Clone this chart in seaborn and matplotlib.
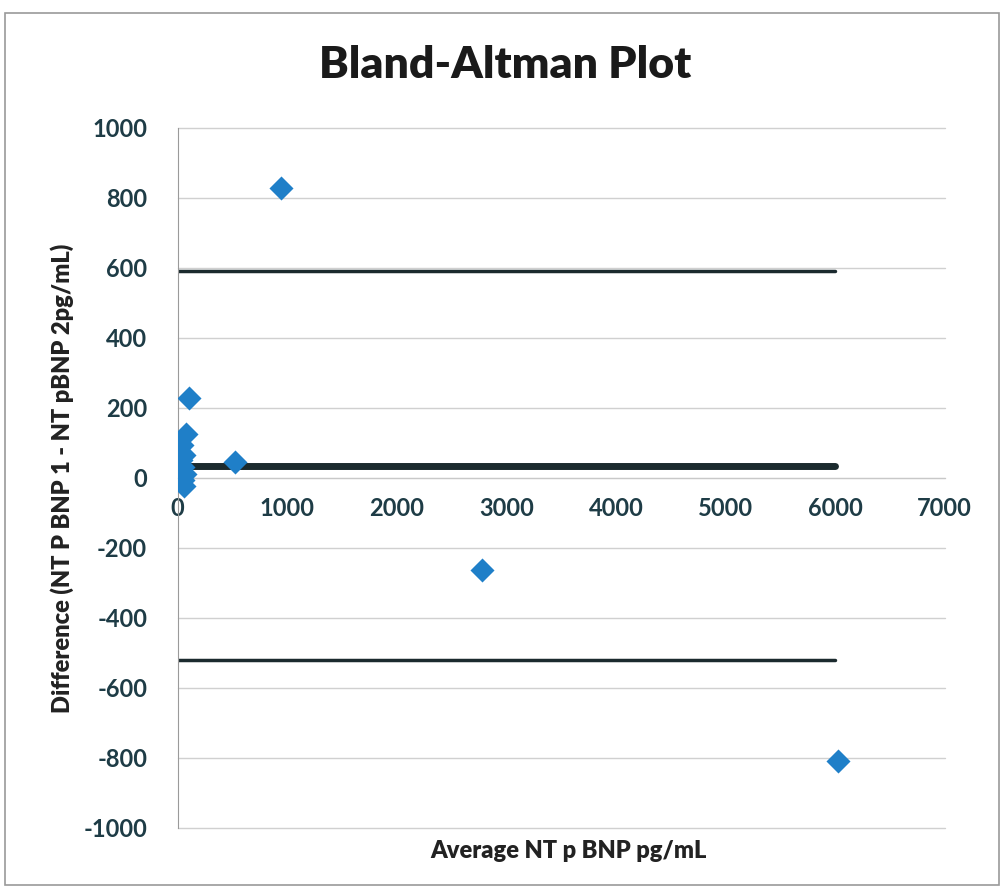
import numpy as np
import pandas as pd
import matplotlib
matplotlib.use("Agg")
import matplotlib.pyplot as plt
import seaborn as sns

# values
avg_ntpbnp = [940, 2780, 6030, 525, 100, 80, 40, 60, 45, 20, 50, 55, 30, 70]
diff_ntpbnp = [829, -263, -810, 46, 229, 125, 94, 66, 31, 23, -6, -23, 50, 10]
mean_diff = 35
upper_loa = 590
lower_loa = -520
line_x = [0, 6000]

df = pd.DataFrame({'avg': avg_ntpbnp, 'diff': diff_ntpbnp})

sns.set_style("white")
plt.rcParams['font.family'] = ['Lato', 'DejaVu Sans']
plt.rcParams['axes.unicode_minus'] = False

fig = plt.figure(figsize=(10.04, 8.94), dpi=100)
ax = fig.add_axes([0.177, 0.074, 0.764, 0.783])

# outer chart border
fig.patches.append(plt.Rectangle((0.005, 0.01), 0.99, 0.975, transform=fig.transFigure,
                                 fill=False, edgecolor='#9a9a9a', lw=1.2))

line_col = '#1b2a2e'
ax.plot(line_x, [upper_loa, upper_loa], color=line_col, lw=2.5, zorder=2)
ax.plot(line_x, [lower_loa, lower_loa], color=line_col, lw=2.5, zorder=2)
ax.plot(line_x, [mean_diff, mean_diff], color=line_col, lw=5, solid_capstyle='round', zorder=2)

sns.scatterplot(data=df, x='avg', y='diff', marker='D', s=150, color='#1f7fc8',
                edgecolor='#1f7fc8', linewidth=0, ax=ax, zorder=3)

ax.set_xlim(0, 7000)
ax.set_ylim(-1000, 1000)
ax.set_xticks(np.arange(0, 7001, 1000))
ax.set_yticks(np.arange(-1000, 1001, 200))
ax.yaxis.grid(True, color='#d0d0d0', lw=1)
ax.xaxis.grid(False)
for gl in ax.get_ygridlines():
    gl.set_clip_on(False)

for s in ['top', 'right']:
    ax.spines[s].set_visible(False)
ax.spines['bottom'].set_position(('data', 0))
ax.spines['bottom'].set_color('#c8c8c8')
ax.spines['left'].set_color('#9a9a9a')

tick_col = '#1e3c46'
ax.tick_params(axis='both', length=0, labelsize=17, labelcolor=tick_col)
ax.tick_params(axis='x', pad=14)
ax.tick_params(axis='y', pad=22)
for lab in ax.get_xticklabels() + ax.get_yticklabels():
    lab.set_fontweight('bold')

ax.set_xlabel('')
ax.set_ylabel('')
fig.text(0.566, 0.048, 'Average NT p BNP pg/mL', ha='center', va='center',
         fontsize=17, fontweight='heavy', color='#222222')
fig.text(0.062, 0.465, 'Difference (NT P BNP 1 - NT pBNP 2pg/mL)', ha='center', va='center',
         rotation=90, fontsize=17, fontweight='heavy', color='#222222')
fig.text(0.503, 0.927, 'Bland-Altman Plot', ha='center', va='center',
         fontsize=32, fontweight='heavy', color='#1a1a1a')

plt.savefig('out.png', dpi=100)
